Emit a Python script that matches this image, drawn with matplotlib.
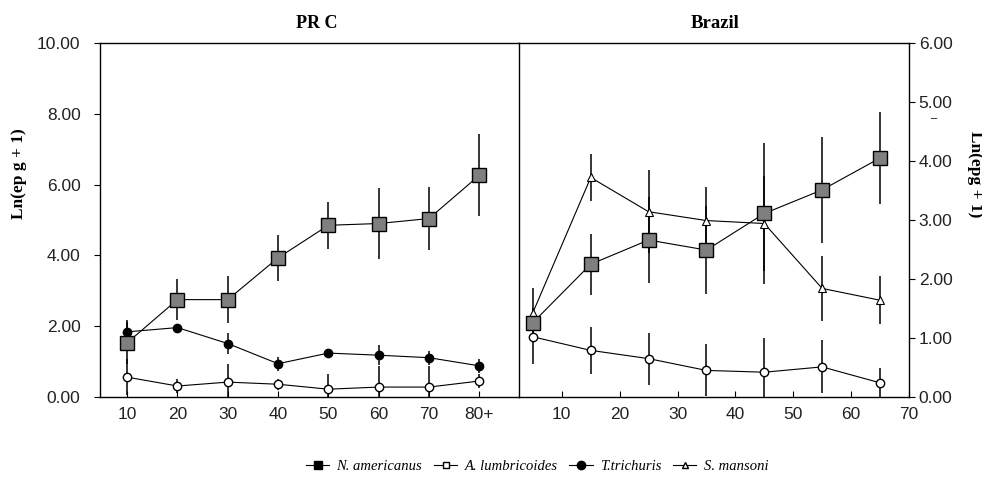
import matplotlib
matplotlib.use('Agg')
import matplotlib.pyplot as plt
from matplotlib.lines import Line2D

# PRC panel (age groups)
prc_ages = ['10', '20', '30', '40', '50', '60', '70', '80+']
prc_nam = [1.53, 2.75, 2.75, 3.93, 4.85, 4.90, 5.04, 6.26]
prc_nam_err = [0.6, 0.57, 0.66, 0.64, 0.66, 1.0, 0.9, 1.16]
prc_asc = [0.56, 0.31, 0.42, 0.36, 0.22, 0.28, 0.28, 0.45]
prc_asc_err = [0.5, 0.2, 0.52, 0.15, 0.44, 0.6, 0.6, 0.2]
prc_tri = [1.84, 1.96, 1.51, 0.94, 1.24, 1.18, 1.11, 0.88]
prc_tri_err = [0.33, 0.1, 0.3, 0.2, 0.05, 0.28, 0.2, 0.2]

# Brazil panel (age midpoints)
br_ages = [5, 15, 25, 35, 45, 55, 65]
br_nam = [1.26, 2.25, 2.66, 2.49, 3.11, 3.51, 4.05]
br_nam_err = [0.25, 0.52, 0.73, 0.75, 1.19, 0.9, 0.78]
br_sm = [1.43, 3.72, 3.14, 2.99, 2.94, 1.84, 1.64]
br_sm_err = [0.42, 0.4, 0.7, 0.57, 0.81, 0.55, 0.41]
br_asc = [1.02, 0.79, 0.65, 0.45, 0.42, 0.51, 0.24]
br_asc_err = [0.46, 0.4, 0.44, 0.44, 0.58, 0.45, 0.25]

sans = 'Liberation Sans'
serif = 'Liberation Serif'

fig = plt.figure(figsize=(9.82, 4.78), dpi=100)
ax1 = fig.add_axes([0.1018, 0.1695, 0.4267, 0.7406])
ax2 = fig.add_axes([0.5285, 0.1695, 0.3971, 0.7406])

line_kw = dict(color='black', lw=0.8, ecolor='black', elinewidth=1.1, capsize=0)

# PRC
xs = list(range(len(prc_ages)))
ax1.errorbar(xs, prc_asc, yerr=prc_asc_err, marker='o', ms=6, mfc='white',
             mec='black', mew=1.0, **line_kw)
ax1.errorbar(xs, prc_tri, yerr=prc_tri_err, marker='o', ms=6, mfc='black',
             mec='black', **line_kw)
ax1.errorbar(xs, prc_nam, yerr=prc_nam_err, marker='s', ms=10, mfc='#7f7f7f',
             mec='black', mew=1.0, **line_kw)
ax1.set_xlim(-0.54, 7.79)
ax1.set_ylim(0, 10)
ax1.set_xticks(xs)
ax1.set_xticklabels(prc_ages)
ax1.set_yticks([0, 2, 4, 6, 8, 10])
ax1.set_yticklabels(['%.2f' % v for v in [0, 2, 4, 6, 8, 10]])
ax1.spines['right'].set_visible(False)
ax1.tick_params(axis='x', direction='in', length=4, pad=7)
ax1.tick_params(axis='y', direction='out', length=4, pad=10)

# Brazil
ax2.errorbar(br_ages, br_asc, yerr=br_asc_err, marker='o', ms=6, mfc='white',
             mec='black', mew=1.0, **line_kw)
ax2.errorbar(br_ages, br_sm, yerr=br_sm_err, marker='^', ms=6, mfc='white',
             mec='black', mew=0.8, **line_kw)
ax2.errorbar(br_ages, br_nam, yerr=br_nam_err, marker='s', ms=10, mfc='#7f7f7f',
             mec='black', mew=1.0, **line_kw)
ax2.set_xlim(2.6, 70)
ax2.set_ylim(0, 6)
ax2.set_xticks([10, 20, 30, 40, 50, 60, 70])
ax2.set_yticks([0, 1, 2, 3, 4, 5, 6])
ax2.set_yticklabels(['%.2f' % v for v in range(7)])
ax2.yaxis.tick_right()
ax2.tick_params(axis='x', direction='in', length=4, pad=7)
ax2.tick_params(axis='y', direction='out', length=4, pad=3)

for ax in (ax1, ax2):
    for sp in ax.spines.values():
        sp.set_linewidth(1.0)
    for lab in ax.get_xticklabels() + ax.get_yticklabels():
        lab.set_fontfamily(sans)
        lab.set_fontsize(12.5)
        lab.set_color('#222222')

fig.text(0.323, 0.95, 'PR C', ha='center', va='center', fontfamily=serif,
         fontweight='bold', fontsize=13)
fig.text(0.728, 0.95, 'Brazil', ha='center', va='center', fontfamily=serif,
         fontweight='bold', fontsize=13.5)
fig.text(0.019, 0.636, 'Ln(ep g + 1)', rotation=90, ha='center', va='center',
         fontfamily=serif, fontweight='bold', fontsize=12.5)
fig.text(0.993, 0.636, 'Ln(epg + 1)', rotation=270, ha='center', va='center',
         fontfamily=serif, fontweight='bold', fontsize=12.5)
fig.text(0.951, 0.752, '\u2013', ha='center', va='center', fontfamily=sans,
         fontsize=8)

handles = [
    Line2D([], [], color='black', lw=0.8, marker='s', ms=6, mfc='black', mec='black'),
    Line2D([], [], color='black', lw=0.8, marker='s', ms=5, mfc='white', mec='black'),
    Line2D([], [], color='black', lw=0.8, marker='o', ms=6, mfc='black', mec='black'),
    Line2D([], [], color='black', lw=0.8, marker='^', ms=4, mfc='white', mec='black'),
]
labels = ['N. americanus', 'A. lumbricoides', 'T.trichuris', 'S. mansoni']
fig.legend(handles, labels, loc='center', bbox_to_anchor=(0.547, 0.025), ncol=4,
           frameon=False, handlelength=1.6, handletextpad=0.5, columnspacing=0.8,
           prop={'family': serif, 'style': 'italic', 'size': 10.5})

fig.savefig('out.png', dpi=100)
